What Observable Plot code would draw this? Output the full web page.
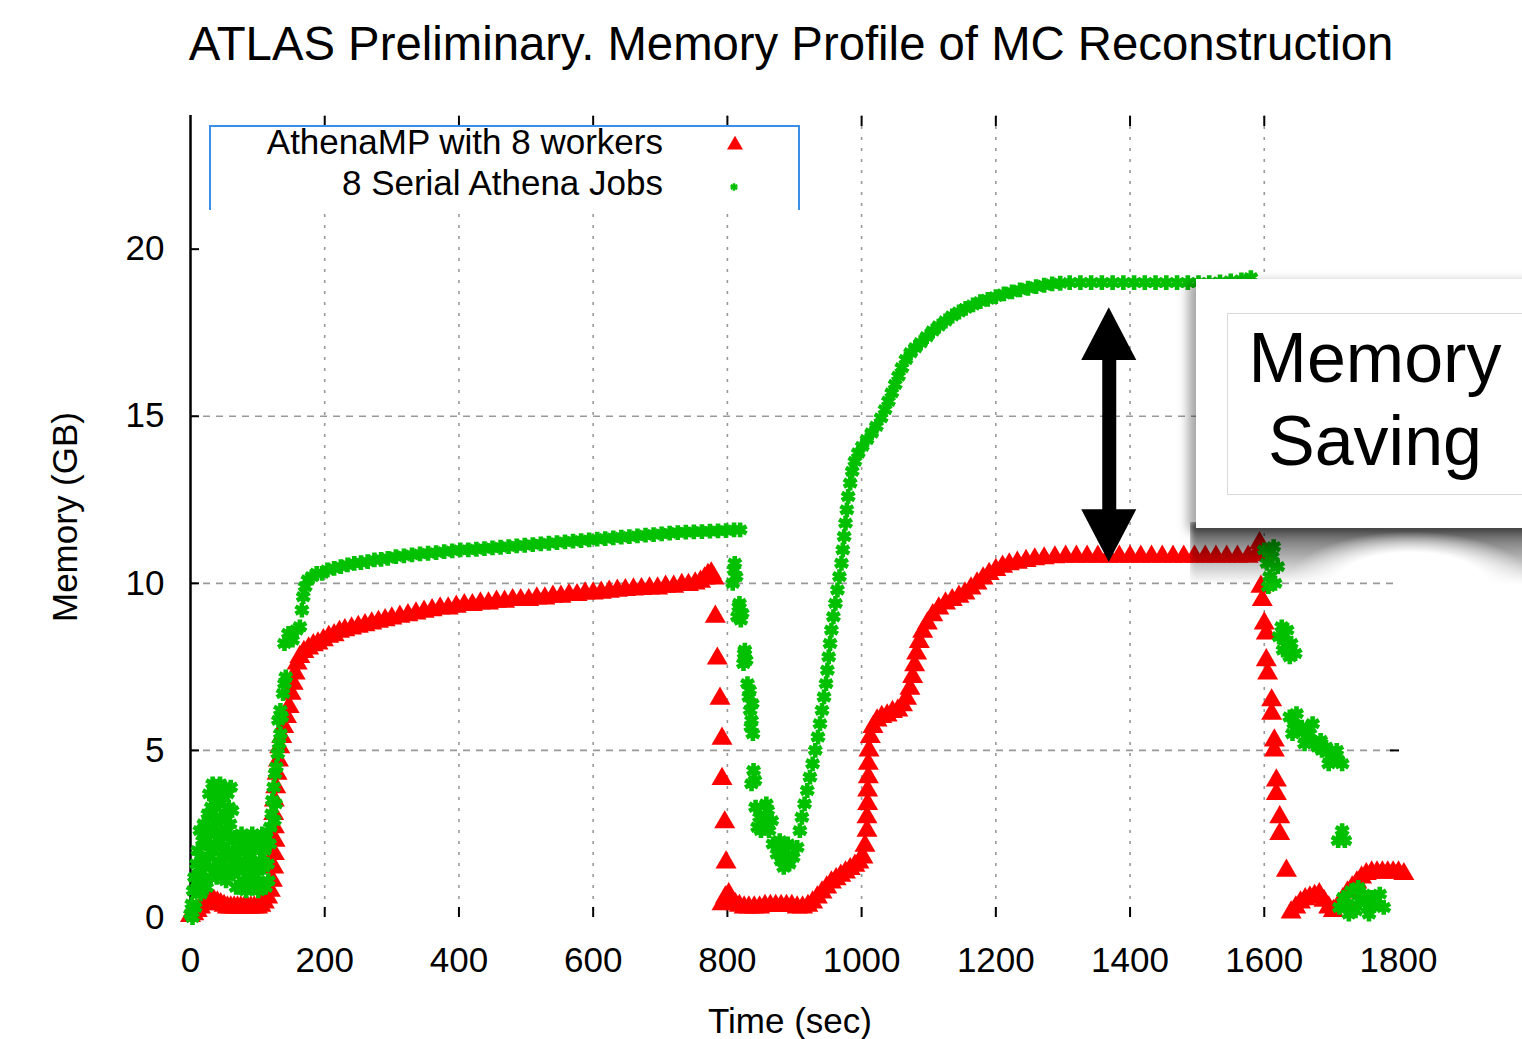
<!DOCTYPE html>
<html>
<head>
<meta charset="utf-8">
<script src="https://cdn.jsdelivr.net/npm/d3@7"></script>
<script src="https://cdn.jsdelivr.net/npm/@observablehq/plot@0.6"></script>
<style>
  body { margin: 0; background: #fff; }
  #wrap { position: relative; width: 1522px; height: 1039px; overflow: hidden; font-family: "Liberation Sans", Arial, sans-serif; color: #000; }
  #chart { position: absolute; left: 0; top: 0; }
  .abs { position: absolute; white-space: nowrap; }
  #title { left: 141px; width: 1300px; top: 19px; height: 50px; line-height: 50px; text-align: center; font-size: 47.3px; }
  #xlabel { left: 590px; width: 400px; top: 1003px; height: 36px; line-height: 36px; text-align: center; font-size: 35px; }
  #ylabel { left: -85px; width: 300px; top: 497px; height: 40px; line-height: 40px; text-align: center; font-size: 35px; transform: rotate(-90deg); }
  #legend { left: 209px; top: 125px; width: 587px; height: 83px; background: #fff; border: 2px solid #3a8ee8; border-bottom: none; }
  .lrow { position: absolute; right: 135px; height: 40px; line-height: 40px; font-size: 35px; text-align: right; }
  .lsym { position: absolute; }
  #shadowB { left: 1190px; top: 522px; width: 345px; height: 62px;
    background: linear-gradient(to bottom, rgba(0,0,0,0.72) 0%, rgba(0,0,0,0.42) 40%, rgba(0,0,0,0) 100%);
    -webkit-mask-image: radial-gradient(ellipse 36% 85% at 64% 100%, transparent 60%, #000 100%);
    mask-image: radial-gradient(ellipse 36% 85% at 64% 100%, transparent 60%, #000 100%);
    filter: blur(3px); }
  #callout { left: 1196px; top: 279px; width: 360px; height: 249px; background: #fff; box-shadow: -8px 3px 10px rgba(0,0,0,0.35); }
  #inner { position: absolute; left: 31px; top: 34px; width: 360px; height: 180px; border: 1px solid #d9d9d9; }
  .ctext { position: absolute; left: 0; width: 294px; text-align: center; font-size: 70px; font-family: "Liberation Sans", Arial, sans-serif; }
</style>
</head>
<body>
<div id="wrap">
  <div id="chart"></div>
  <div id="title" class="abs">ATLAS Preliminary. Memory Profile of MC Reconstruction</div>
  <div id="xlabel" class="abs">Time (sec)</div>
  <div id="ylabel" class="abs">Memory (GB)</div>
  <div id="legend" class="abs"></div>
  <div id="shadowB" class="abs"></div>
  <div id="callout" class="abs"><div id="inner">
    <div class="ctext" style="top:4px;height:80px;line-height:80px;">Memory</div>
    <div class="ctext" style="top:87px;height:80px;line-height:80px;">Saving</div>
  </div></div>
</div>
<script>
// ---------- data ----------
const seriesNames = ["AthenaMP with 8 workers", "8 Serial Athena Jobs"];

const xTicks = [0, 200, 400, 600, 800, 1000, 1200, 1400, 1600, 1800];
const yTicks = [0, 5, 10, 15, 20];
const xGrid = [200, 400, 600, 800, 1000, 1200, 1400, 1600];
const yGrid = [5, 10, 15];

// AthenaMP with 8 workers (red triangles)
const redTime = [
  0,5,10,15,20,25,30,35,40,45,50,55,60,65,70,75,80,85,90,95,100,105,110,115,119,122,124,125,126,125,124,125,127,129,131,133,136,139,143,147,150,153,156,159,163,169,176,183,190,198,206,214,222,230,240,250,260,270,280,290,300,312,324,336,348,360,372,384,396,408,420,432,444,456,468,480,492,504,516,528,540,552,564,576,588,600,612,624,636,648,660,672,684,696,708,720,732,742,752,760,766,771,776,780,
  782,785,789,792,792,796,798,
  792,797,802,807,812,818,825,832,840,848,856,864,872,880,888,896,904,912,920,927,934,941,948,955,962,969,976,983,990,996,1002,1005,
  1008,1008,1009,1009,1010,1010,1011,1013,1017,1023,1030,1038,1046,1054,1061,1067,1072,1076,1079,1082,1086,1091,1098,1106,1115,1125,1135,1145,1154,1163,1172,1181,1190,1200,1210,1220,1232,1245,1258,1272,1288,1304,1320,1336,1352,1368,1384,1400,1416,1432,1448,1464,1480,1496,1512,1528,1544,1560,1576,1588,1593,
  1595,1597,1600,1603,1603,1605,1611,1611,1615,1615,1618,1618,1623,1623,1633,
  1640,1647,1654,1661,1668,1675,1682,1689,1696,1703,1710,1717,1724,1731,1738,1745,1752,1760,1768,1776,1784,1792,1800,1808
];
const redMem = [
  0.05,0.1,0.2,0.3,0.4,0.5,0.55,0.5,0.45,0.4,0.35,0.3,0.3,0.3,0.3,0.3,0.3,0.3,0.3,0.3,0.3,0.35,0.45,0.6,0.8,1.1,1.5,1.9,2.3,2.7,3.1,3.5,3.9,4.3,4.7,5.1,5.4,5.7,6.0,6.3,6.7,7.0,7.3,7.6,7.8,7.95,8.05,8.15,8.2,8.3,8.4,8.45,8.55,8.6,8.65,8.7,8.75,8.8,8.85,8.9,8.95,9.0,9.05,9.1,9.15,9.2,9.25,9.25,9.3,9.35,9.35,9.4,9.4,9.45,9.45,9.5,9.5,9.5,9.55,9.55,9.6,9.6,9.65,9.65,9.7,9.7,9.72,9.75,9.78,9.8,9.82,9.83,9.85,9.85,9.9,9.9,9.95,9.95,10.0,10.05,10.15,10.25,10.3,10.15,
  9.0,7.75,6.55,5.35,4.15,2.85,1.65,
  0.4,0.6,0.7,0.5,0.4,0.35,0.3,0.3,0.3,0.3,0.35,0.35,0.35,0.35,0.35,0.35,0.3,0.3,0.35,0.45,0.6,0.75,0.9,1.05,1.15,1.25,1.35,1.45,1.55,1.65,1.8,2.15,
  2.6,3.0,3.4,3.8,4.2,4.6,5.0,5.4,5.7,5.9,6.0,6.05,6.15,6.2,6.35,6.55,6.85,7.2,7.55,7.9,8.25,8.55,8.8,9.05,9.25,9.4,9.5,9.6,9.7,9.85,10.0,10.15,10.28,10.4,10.5,10.57,10.62,10.67,10.72,10.75,10.78,10.8,10.8,10.8,10.8,10.8,10.8,10.8,10.8,10.8,10.8,10.8,10.8,10.8,10.8,10.8,10.8,10.8,10.8,10.85,11.2,
  9.9,9.5,8.8,8.5,7.7,7.3,6.5,6.1,5.3,5.0,4.1,3.7,3.0,2.5,1.4,
  0.15,0.3,0.45,0.55,0.6,0.65,0.7,0.5,0.3,0.2,0.35,0.55,0.75,0.9,1.05,1.2,1.3,1.35,1.35,1.35,1.35,1.35,1.35,1.3
];

// 8 Serial Athena Jobs (green stars)
const greenTime = [
  0,2,4,6,3,7,9,10,11,12,14,15,16,18,19,20,22,23,24,26,27,28,29,30,31,32,33,34,35,36,37,38,39,40,41,42,43,44,45,46,47,48,49,50,51,52,53,54,55,56,57,58,59,60,61,62,63,64,
  66,67,68,70,71,73,74,76,77,79,80,82,83,85,86,88,89,91,92,94,95,97,98,100,101,103,104,106,107,109,110,112,113,115,116,118,
  119,121,122,124,125,126,127,128,130,132,134,131,134,136,138,140,142,140,146,152,158,163,166,168,171,175,181,188,196,204,
  214,224,234,244,254,264,274,284,294,306,318,330,342,354,366,378,390,402,414,426,438,450,462,474,486,498,510,522,534,546,558,570,582,594,606,618,630,642,654,666,678,690,702,714,726,738,750,762,774,786,798,810,819,
  808,810,813,811,815,818,822,820,817,824,826,828,825,830,832,834,836,838,833,837,835,836,839,841,
  842,848,854,860,866,850,858,845,862,868,874,880,886,892,898,904,878,890,884,
  908,911,915,919,923,927,931,935,938,941,944,947,949,951,953,955,958,961,964,967,970,972,974,976,978,980,983,986,990,995,1001,1008,1015,1022,1029,1035,1040,1045,1050,1055,1060,1066,1073,1080,1088,1097,1106,1115,1125,1135,1145,1155,1166,1177,1188,1200,1212,1224,1236,1248,1260,1272,1284,1296,1310,1326,1342,1358,1374,1390,1406,1422,1438,1454,1470,1486,1502,1518,1534,1550,1566,1580,
  1600,1604,1608,1612,1616,1620,1606,1614,
  1622,1628,1634,1640,1646,1630,1638,1626,
  1638,1644,1650,1656,1662,1668,1674,1680,1686,1692,1698,1704,1710,1716,1642,1648,1660,1672,1684,1696,1708,
  1710,1716,1720,
  1712,1718,1724,1730,1736,1742,1748,1754,1760,1766,1772,1778,1726,1740,1756
];
const greenMem = [
  0.1,0.4,0.8,1.2,0.0,0.3,1.6,0.9,2.0,1.3,2.6,0.7,1.8,2.3,1.1,2.8,1.5,2.2,0.9,3.1,1.8,3.7,2.5,1.2,3.3,2.0,4.0,2.7,1.5,3.6,2.2,3.0,1.2,3.8,2.5,1.7,3.4,4.0,2.1,2.9,1.4,3.6,2.4,3.9,1.8,3.1,1.1,2.6,3.7,2.0,3.3,1.5,2.8,3.9,1.9,3.2,2.3,1.3,
  2.4,1.7,0.9,2.3,1.4,2.0,0.9,2.5,1.6,1.1,2.2,1.5,0.8,2.4,1.8,1.2,2.1,0.9,2.5,1.6,2.0,1.1,2.4,1.4,0.8,2.2,1.7,1.0,2.5,1.5,2.0,0.9,2.4,1.6,1.1,2.2,
  2.7,3.1,3.5,3.9,2.9,4.3,3.4,4.5,4.9,5.2,5.5,5.9,6.2,6.0,6.7,7.0,7.2,8.2,8.5,8.3,8.6,8.7,9.2,9.6,9.9,10.1,10.2,10.3,10.3,10.4,
  10.45,10.5,10.55,10.6,10.62,10.65,10.7,10.72,10.75,10.8,10.82,10.85,10.88,10.9,10.92,10.95,10.97,11.0,11.0,11.02,11.04,11.06,11.08,11.1,11.12,11.14,11.16,11.18,11.2,11.22,11.24,11.26,11.28,11.3,11.32,11.34,11.36,11.38,11.4,11.42,11.44,11.46,11.48,11.5,11.52,11.53,11.54,11.55,11.56,11.57,11.58,11.6,11.6,
  10.0,10.4,10.2,10.6,9.0,9.4,9.1,8.9,9.3,7.6,8.0,7.7,7.9,7.0,6.6,6.2,5.9,5.5,6.8,6.4,5.7,4.0,4.4,4.1,
  3.3,3.0,2.8,3.2,2.9,2.6,3.4,2.7,2.6,2.2,1.9,1.7,2.0,1.6,1.8,2.1,2.3,2.2,1.5,
  2.6,3.0,3.4,3.8,4.2,4.6,5.0,5.4,5.8,6.2,6.6,7.0,7.4,7.8,8.2,8.6,9.0,9.4,9.8,10.2,10.6,11.0,11.4,11.8,12.2,12.6,13.0,13.35,13.65,13.9,14.1,14.3,14.5,14.7,14.95,15.2,15.45,15.7,15.95,16.2,16.45,16.7,16.9,17.05,17.2,17.38,17.55,17.7,17.85,18.0,18.12,18.23,18.33,18.43,18.5,18.58,18.66,18.72,18.78,18.83,18.88,18.92,18.96,18.98,19.0,19.0,19.0,19.0,19.0,19.0,19.0,19.0,19.0,19.0,19.0,19.0,19.0,19.0,19.02,19.05,19.08,19.15,
  11.0,10.6,10.2,10.8,10.0,10.5,9.9,11.1,
  8.4,8.0,8.6,8.2,7.9,8.3,7.8,8.7,
  6.0,5.8,5.6,5.7,5.4,5.5,5.2,5.1,5.0,5.1,4.8,4.9,4.7,4.6,5.5,6.1,5.2,5.8,5.3,4.6,5.0,
  2.3,2.6,2.3,
  0.3,0.6,0.4,0.8,0.2,0.5,0.7,0.3,0.6,0.4,0.7,0.3,0.1,0.9,0.1
];

// "Memory Saving" double arrow (time, bottom tip, top tip) and head size in data units
const arrowTime = 1369;
const arrowLow = 10.62;
const arrowHigh = 18.25;
const headLen = 1.58;
const headHalf = 41;

// ---------- build ----------
const red = redTime.map((t, i) => ({t, m: redMem[i]}));
const green = greenTime.map((t, i) => ({t, m: greenMem[i]}));
const RED = "#ff0000", GREEN = "#00c000";

const upHead = [{y: arrowHigh, x1: arrowTime, x2: arrowTime}, {y: arrowHigh - headLen, x1: arrowTime - headHalf, x2: arrowTime + headHalf}];
const downHead = [{y: arrowLow, x1: arrowTime, x2: arrowTime}, {y: arrowLow + headLen, x1: arrowTime - headHalf, x2: arrowTime + headHalf}];

const blank = () => "";
const plain = d => String(d);
const chart = Plot.plot({
  width: 1522,
  height: 1039,
  marginLeft: 190,
  marginRight: 124,
  marginTop: 115,
  marginBottom: 122,
  style: {fontFamily: "'Liberation Sans', Arial, sans-serif", fontSize: "35px", color: "#000", background: "transparent"},
  x: {domain: [0, 1800]},
  y: {domain: [0, 24]},
  marks: [
    Plot.gridY(yGrid, {stroke: "#999", strokeOpacity: 1, strokeWidth: 1.6, strokeDasharray: "7,6"}),
    Plot.gridX(xGrid, {stroke: "#999", strokeOpacity: 1, strokeWidth: 1.6, strokeDasharray: "3,8"}),
    Plot.axisY(yTicks, {anchor: "left", tickSize: 0, tickPadding: 26, fontSize: 35, label: null, tickFormat: plain}),
    Plot.axisX(xTicks, {anchor: "bottom", tickSize: 0, tickPadding: 30, fontSize: 35, label: null, tickFormat: plain}),
    Plot.axisY(yTicks.slice(1), {anchor: "left", tickSize: -9, tickFormat: blank, label: null, strokeWidth: 2}),
    Plot.axisY([5], {anchor: "right", tickSize: -9, tickFormat: blank, label: null, strokeWidth: 2}),
    Plot.axisX(xGrid, {anchor: "bottom", tickSize: -10, tickFormat: blank, label: null, strokeWidth: 2}),
    Plot.axisX(xGrid, {anchor: "top", tickSize: -10, tickFormat: blank, label: null, strokeWidth: 2}),
    Plot.ruleX([0], {y1: -0.15, y2: 24, stroke: "#000", strokeWidth: 2.5}),
    Plot.dot(red, {x: "t", y: "m", symbol: "triangle", r: 7.8, fill: RED, stroke: null}),
    Plot.dot(green, {x: "t", y: "m", symbol: "asterisk", r: 7, fill: "none", stroke: GREEN, strokeWidth: 4.6}),
    Plot.ruleX([arrowTime], {y1: arrowLow + headLen - 0.1, y2: arrowHigh - headLen + 0.1, stroke: "#000", strokeWidth: 14}),
    Plot.areaX(upHead, {y: "y", x1: "x1", x2: "x2", fill: "#000"}),
    Plot.areaX(downHead, {y: "y", x1: "x1", x2: "x2", fill: "#000"})
  ]
});
document.getElementById("chart").appendChild(chart);

// legend
const legend = document.getElementById("legend");
const rowTops = [-5, 36];
const symPaths = [
  d3.symbol().type(d3.symbolTriangle).size(110)(),
  d3.symbol().type(d3.symbolAsterisk).size(40)()
];
const symColors = [RED, GREEN];
const symCenters = [[524, 18], [523, 60]];
seriesNames.forEach((name, i) => {
  const row = document.createElement("div");
  row.className = "lrow";
  row.style.top = rowTops[i] + "px";
  row.textContent = name;
  legend.appendChild(row);
  const ns = "http://www.w3.org/2000/svg";
  const svg = document.createElementNS(ns, "svg");
  svg.setAttribute("width", 30); svg.setAttribute("height", 30);
  svg.setAttribute("class", "lsym");
  svg.style.left = (symCenters[i][0] - 15) + "px";
  svg.style.top = (symCenters[i][1] - 15) + "px";
  const p = document.createElementNS(ns, "path");
  p.setAttribute("d", symPaths[i]);
  p.setAttribute("transform", "translate(15,15)");
  if (i === 0) { p.setAttribute("fill", symColors[i]); }
  else { p.setAttribute("fill", "none"); p.setAttribute("stroke", symColors[i]); p.setAttribute("stroke-width", 2.5); }
  svg.appendChild(p);
  legend.appendChild(svg);
});
</script>
</body>
</html>
